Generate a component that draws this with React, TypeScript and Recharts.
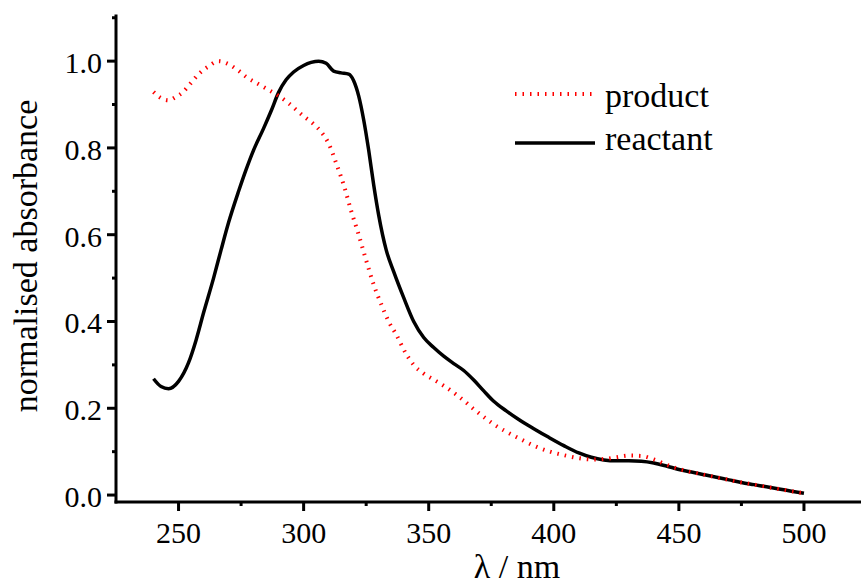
import React from 'react';
import { LineChart, Line, XAxis, YAxis } from 'recharts';

// reactant spectrum (black solid)
const reactantWavelengths = [
  240, 243, 246, 250, 254, 257, 260, 264, 267, 270, 274, 277, 280, 284, 287, 290,
  293, 296, 300, 303, 306, 309, 312, 315, 318, 320, 322, 324, 326, 328, 330, 333,
  336, 340, 344, 348, 352, 356, 360, 364, 368, 372, 376, 381, 386, 392, 398, 404,
  410, 415, 420, 425, 430, 435, 440, 445, 450, 455, 460, 465, 470, 475, 480, 485,
  490, 495, 500,
];
const reactantAbs = [
  0.268, 0.25, 0.245, 0.262, 0.305, 0.357, 0.42, 0.5, 0.565, 0.628, 0.7, 0.75, 0.795, 0.845, 0.885, 0.928,
  0.957, 0.975, 0.99, 0.997, 1.0, 0.995, 0.977, 0.973, 0.97, 0.955, 0.92, 0.865, 0.795, 0.715, 0.645, 0.565,
  0.515, 0.455, 0.4, 0.363, 0.34, 0.32, 0.303, 0.287, 0.265, 0.24, 0.216, 0.194, 0.174, 0.153, 0.133, 0.114,
  0.097, 0.087, 0.081, 0.079, 0.079, 0.078, 0.074, 0.067, 0.059, 0.053, 0.047, 0.041, 0.035, 0.029, 0.024, 0.019,
  0.014, 0.009, 0.004,
];

// product spectrum (red dotted)
const productWavelengths = [
  240, 243, 246, 249, 252, 255, 258, 262, 266, 270, 274, 277, 281, 285, 290, 294,
  297, 300, 304, 307, 310, 313, 316, 319, 322, 325, 328, 331, 334, 337, 341, 344,
  348, 352, 356, 360, 364, 368, 372, 376, 381, 386, 392, 398, 404, 410, 415, 420,
  425, 430, 435, 440, 445, 450, 455, 460, 465, 470, 475, 480, 485, 490, 495, 500,
];
const productAbs = [
  0.929, 0.915, 0.91, 0.918, 0.93, 0.95, 0.97, 0.988, 1.0, 0.993, 0.978, 0.964, 0.95, 0.937, 0.92, 0.903,
  0.888, 0.873, 0.855, 0.837, 0.81, 0.765, 0.715, 0.655, 0.6, 0.541, 0.485, 0.44, 0.4, 0.37, 0.325, 0.3,
  0.28, 0.266, 0.252, 0.236, 0.218, 0.198, 0.18, 0.163, 0.146, 0.131, 0.114, 0.101, 0.092, 0.085, 0.082, 0.083,
  0.087, 0.091, 0.09, 0.082, 0.07, 0.06, 0.053, 0.047, 0.041, 0.035, 0.029, 0.024, 0.019, 0.014, 0.009, 0.004,
];

const xTicks = [250, 275, 300, 325, 350, 375, 400, 425, 450, 475, 500];
const xLabelTicks = [250, 300, 350, 400, 450, 500];
const yTicks = [0, 0.1, 0.2, 0.3, 0.4, 0.5, 0.6, 0.7, 0.8, 0.9, 1.0, 1.1];
const yLabelTicks = [0, 0.2, 0.4, 0.6, 0.8, 1.0];

const seriesNames = ['product', 'reactant'];

const FONT = '"Liberation Serif", "Times New Roman", serif';

const reactantData = reactantWavelengths.map((x, i) => ({ x, y: reactantAbs[i] }));
const productData = productWavelengths.map((x, i) => ({ x, y: productAbs[i] }));

function XTick(props: any) {
  const { x, y, payload } = props;
  const major = xLabelTicks.includes(payload.value);
  return (
    <g>
      <line x1={x} x2={x} y1={y} y2={y + (major ? 9 : 4)} stroke="#000" strokeWidth={3} />
      {major && (
        <text x={x} y={y + 41} textAnchor="middle" fontFamily={FONT} fontSize={30} fill="#000">
          {payload.value}
        </text>
      )}
    </g>
  );
}

function YTick(props: any) {
  const { x, y, payload } = props;
  const v = Math.round(payload.value * 10) / 10;
  const major = yLabelTicks.includes(v);
  return (
    <g>
      <line x1={x} x2={x - (major ? 9 : 4)} y1={y} y2={y} stroke="#000" strokeWidth={3} />
      {major && (
        <text x={x - 14} y={y + 12} textAnchor="end" fontFamily={FONT} fontSize={30} fill="#000">
          {v.toFixed(1)}
        </text>
      )}
    </g>
  );
}

export default function App() {
  return (
    <div style={{ position: 'absolute', left: 0, top: 0, width: 861, height: 586, background: '#fff' }}>
      <LineChart width={861} height={586} margin={{ top: 16, right: 0, left: 0, bottom: 0 }}>
        <XAxis
          type="number"
          dataKey="x"
          domain={[225, 522.8]}
          ticks={xTicks}
          tick={XTick}
          tickSize={0}
          tickMargin={0}
          tickLine={false}
          height={84}
          allowDataOverflow
          axisLine={{ stroke: '#000', strokeWidth: 3, strokeLinecap: 'square' }}
          label={(p: any) => (
            <text x={517} y={578} textAnchor="middle" fontFamily={FONT} fontSize={34} fill="#000">
              λ / nm
            </text>
          )}
        />
        <YAxis
          type="number"
          dataKey="y"
          domain={[-0.016, 1.104]}
          ticks={yTicks}
          tick={YTick}
          tickSize={0}
          tickMargin={0}
          tickLine={false}
          width={116}
          allowDataOverflow
          interval={0}
          axisLine={{ stroke: '#000', strokeWidth: 3, strokeLinecap: 'square' }}
          label={(p: any) => (
            <text
              x={37}
              y={256}
              transform="rotate(-90 37 256)"
              textAnchor="middle"
              fontFamily={FONT}
              fontSize={34}
              fill="#000"
            >
              normalised absorbance
            </text>
          )}
        />
        <Line
          data={reactantData}
          dataKey="y"
          type="monotone"
          stroke="#000"
          strokeWidth={3.5}
          dot={false}
          isAnimationActive={false}
        />
        <Line
          data={productData}
          dataKey="y"
          type="monotone"
          stroke="#ff0000"
          strokeWidth={4}
          strokeDasharray="1.5 6"
          dot={false}
          isAnimationActive={false}
        />
      </LineChart>
      <svg
        width={861}
        height={586}
        style={{ position: 'absolute', left: 0, top: 0, pointerEvents: 'none' }}
      >
        <line x1={515} x2={592} y1={94} y2={94} stroke="#ff0000" strokeWidth={4} strokeDasharray="1.5 6" />
        <text x={605} y={107} fontFamily={FONT} fontSize={34} fill="#000">
          {seriesNames[0]}
        </text>
        <line x1={515} x2={595} y1={143} y2={143} stroke="#000" strokeWidth={3.5} />
        <text x={605} y={150} fontFamily={FONT} fontSize={34} fill="#000">
          {seriesNames[1]}
        </text>
      </svg>
    </div>
  );
}
